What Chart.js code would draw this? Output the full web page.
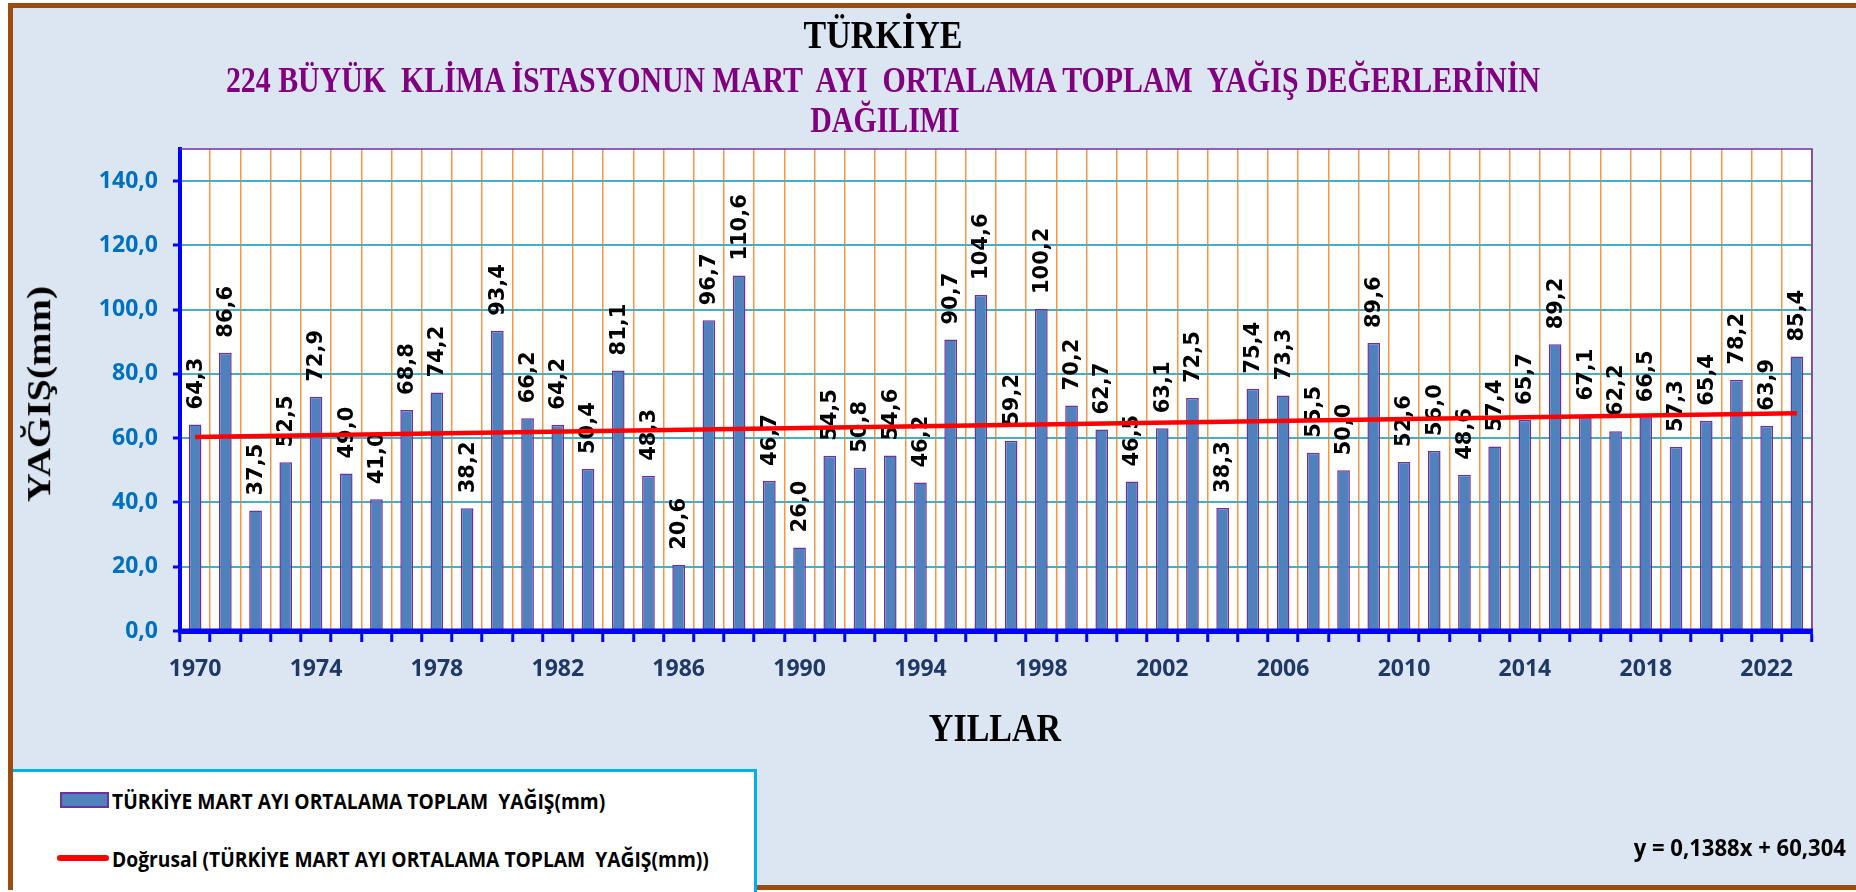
<!DOCTYPE html>
<html>
<head>
<meta charset="utf-8">
<script src="https://cdn.jsdelivr.net/npm/chart.js@4.4.1/dist/chart.umd.min.js"></script>
<style>
  html, body { margin:0; padding:0; background:#ffffff; overflow:hidden; }
  #frame { position:absolute; left:8px; top:3px; width:1900px; height:877px; border:5px solid #9A4D0F; background:#DCE6F2; }
  #c { position:absolute; left:0; top:0; }
  .t { position:absolute; white-space:pre; line-height:1; font-family:"Liberation Serif","Times New Roman",serif; font-weight:bold; }
  #legend { position:absolute; left:13px; top:769px; width:741px; height:120px; background:#ffffff; border-top:3px solid #00B0F0; border-right:3px solid #00B0F0; }
  .lt { position:absolute; white-space:pre; line-height:1; font-family:"Open Sans",sans-serif; font-weight:bold; font-size:22px; color:#000; transform-origin:0 50%; }
</style>
</head>
<body>
<div id="frame"></div>
<canvas id="c" width="1856" height="892"></canvas>

<div class="t" id="title1" style="left:883px; top:14px; font-size:41px; color:#000; transform:translateX(-50%) scaleX(0.83);">TÜRKİYE</div>
<div class="t" id="title2" style="left:883px; top:62px; font-size:36px; color:#800080; transform:translateX(-50%) scaleX(0.83);">224 BÜYÜK  KLİMA İSTASYONUN MART  AYI  ORTALAMA TOPLAM  YAĞIŞ DEĞERLERİNİN</div>
<div class="t" id="title3" style="left:885px; top:102px; font-size:36px; color:#800080; transform:translateX(-50%) scaleX(0.83);">DAĞILIMI</div>
<div class="t" id="ytitle" style="left:39px; top:394px; font-size:40px; color:#000; transform:translate(-50%,-50%) rotate(-90deg) scaleY(0.82);">YAĞIŞ(mm)</div>
<div class="t" id="xtitle" style="left:995px; top:707px; font-size:41px; color:#000; transform:translateX(-50%) scaleX(0.83);">YILLAR</div>

<div id="legend"></div>
<div style="position:absolute; left:60px; top:792px; width:45px; height:12px; background:#4F81BD; border:2px solid #7030A0;"></div>
<div class="lt" id="leg1" style="left:112px; top:789px; transform:scaleX(0.875);">TÜRKİYE MART AYI ORTALAMA TOPLAM  YAĞIŞ(mm)</div>
<div style="position:absolute; left:57px; top:855px; width:52px; height:6px; background:#FF0000; border-radius:3px;"></div>
<div class="lt" id="leg2" style="left:112px; top:847px; transform:scaleX(0.875);">Doğrusal (TÜRKİYE MART AYI ORTALAMA TOPLAM  YAĞIŞ(mm))</div>
<div class="lt" id="eq" style="left:1846px; top:835px; font-size:24px; transform-origin:100% 50%; transform:translateX(-100%) scaleX(0.92);">y = 0,1388x + 60,304</div>

<script>
const years = ['1970','1971','1972','1973','1974','1975','1976','1977','1978','1979',
  '1980','1981','1982','1983','1984','1985','1986','1987','1988','1989',
  '1990','1991','1992','1993','1994','1995','1996','1997','1998','1999',
  '2000','2001','2002','2003','2004','2005','2006','2007','2008','2009',
  '2010','2011','2012','2013','2014','2015','2016','2017','2018','2019',
  '2020','2021','2022','2023'];
const rainfall = [64.3, 86.6, 37.5, 52.5, 72.9, 49.0, 41.0, 68.8, 74.2, 38.2,
  93.4, 66.2, 64.2, 50.4, 81.1, 48.3, 20.6, 96.7, 110.6, 46.7,
  26.0, 54.5, 50.8, 54.6, 46.2, 90.7, 104.6, 59.2, 100.2, 70.2,
  62.7, 46.5, 63.1, 72.5, 38.3, 75.4, 73.3, 55.5, 50.0, 89.6,
  52.6, 56.0, 48.6, 57.4, 65.7, 89.2, 67.1, 62.2, 66.5, 57.3,
  65.4, 78.2, 63.9, 85.4];
const trendYears = ['1970', '2023'];
const trendValues = [60.4, 67.8];
const xTickLabels = ['1970','1974','1978','1982','1986','1990','1994','1998','2002','2006','2010','2014','2018','2022'];
const yTickValues = [0, 20, 40, 60, 80, 100, 120, 140];

const fmt = v => Number(v).toFixed(1).replace('.', ',');

const decor = {
  id: 'decor',
  beforeDraw(chart) {
    const a = chart.chartArea, ctx = chart.ctx;
    ctx.save();
    ctx.fillStyle = '#ffffff';
    ctx.fillRect(a.left, a.top, a.right - a.left, a.bottom - a.top);
    ctx.restore();
  },
  afterDatasetDraw(chart, args) {
    if (args.index !== 0) return;
    const ctx = chart.ctx;
    const meta = chart.getDatasetMeta(0);
    ctx.save();
    ctx.font = 'bold 21px "DejaVu Sans"';
    ctx.fillStyle = '#000000';
    ctx.textAlign = 'left';
    ctx.textBaseline = 'middle';
    meta.data.forEach((el, i) => {
      ctx.save();
      ctx.translate(el.x + 1, el.y - 15);
      ctx.rotate(-Math.PI / 2);
      ctx.fillText(fmt(rainfall[i]), 0, 0);
      ctx.restore();
    });
    ctx.restore();
  },
  afterDatasetsDraw(chart) {
    const a = chart.chartArea, ctx = chart.ctx;
    const y0 = chart.scales.y.getPixelForValue(0);
    ctx.save();
    ctx.strokeStyle = '#7030A0';
    ctx.lineWidth = 1.5;
    ctx.beginPath();
    ctx.moveTo(a.left, a.top);
    ctx.lineTo(a.right, a.top);
    ctx.lineTo(a.right, y0);
    ctx.stroke();
    ctx.strokeStyle = '#0000FF';
    ctx.lineWidth = 5;
    ctx.beginPath();
    ctx.moveTo(a.left - 2, y0);
    ctx.lineTo(a.right + 1, y0);
    ctx.stroke();
    ctx.restore();
  }
};

Chart.defaults.font.family = '"Open Sans", sans-serif';

new Chart(document.getElementById('c'), {
  data: {
    labels: years,
    datasets: [
      {
        type: 'bar',
        label: 'TÜRKİYE MART AYI ORTALAMA TOPLAM YAĞIŞ(mm)',
        data: rainfall,
        backgroundColor: '#4F81BD',
        borderColor: '#7030A0',
        borderWidth: 1.5,
        borderSkipped: 'bottom',
        categoryPercentage: 1.0,
        barPercentage: 0.42,
        order: 1
      },
      {
        type: 'line',
        label: 'Doğrusal (TÜRKİYE MART AYI ORTALAMA TOPLAM YAĞIŞ(mm))',
        data: trendYears.map((y, i) => ({ x: y, y: trendValues[i] })),
        borderColor: '#FF0000',
        borderWidth: 4.5,
        pointRadius: 0,
        fill: false,
        order: 0
      }
    ]
  },
  options: {
    responsive: false,
    animation: false,
    devicePixelRatio: 1,
    layout: { padding: { left: 0, top: 149, right: 44, bottom: 201 } },
    plugins: { legend: { display: false }, tooltip: { enabled: false }, title: { display: false } },
    scales: {
      x: {
        type: 'category',
        offset: true,
        grid: { offset: true, color: '#F79646', lineWidth: 1.5, tickColor: '#0000FF', tickWidth: 3, tickLength: 11 },
        border: { color: '#0000FF', width: 5 },
        ticks: {
          autoSkip: false, maxRotation: 0, minRotation: 0, padding: 14,
          color: '#1F3864', font: { size: 23, weight: 'bold' },
          callback: function(v, i) { const l = years[i]; return xTickLabels.includes(l) ? l : ''; }
        },
        afterFit(s) { s.height = 60; }
      },
      y: {
        min: 0, max: 150,
        grid: { color: '#4BACC6', lineWidth: 2, tickColor: '#0000FF', tickWidth: 3, tickLength: 7 },
        border: { color: '#0000FF', width: 4 },
        ticks: { padding: 15, color: '#0070C0', font: { size: 23, weight: 'bold' }, callback: v => fmt(v) },
        afterBuildTicks(s) { s.ticks = yTickValues.map(v => ({ value: v })); },
        afterFit(s) { s.width = 180; }
      }
    }
  },
  plugins: [decor]
});
</script>
</body>
</html>
